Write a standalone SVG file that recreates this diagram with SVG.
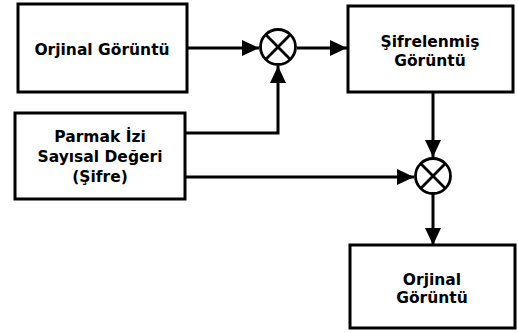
<svg xmlns="http://www.w3.org/2000/svg" width="518" height="333" viewBox="0 0 518 333">
<style>
.box{fill:#fff;stroke:#000;stroke-width:3}
.t{font-family:"DejaVu Sans",sans-serif;font-weight:bold;font-size:15.5px;text-anchor:middle;fill:#000}
.ln{fill:none;stroke:#000;stroke-width:3}
.op{fill:#fff;stroke:#000;stroke-width:2.8}
.x{stroke:#000;stroke-width:2.8}
</style>
<defs>
<marker id="ah" markerWidth="17" markerHeight="16" refX="17" refY="8" orient="auto" markerUnits="userSpaceOnUse">
<path d="M0,0 L17,8 L0,16 Z" fill="#000"/>
</marker>
</defs>
<g id="connectors">
<path class="ln" d="M187,48 L259,48" marker-end="url(#ah)"/>
<path class="ln" d="M297,48 L347,48" marker-end="url(#ah)"/>
<path class="ln" d="M185,133 L278,133 L278,66" marker-end="url(#ah)"/>
<path class="ln" d="M433,92 L433,157" marker-end="url(#ah)"/>
<path class="ln" d="M185,177 L414,177" marker-end="url(#ah)"/>
<path class="ln" d="M433,194 L433,245" marker-end="url(#ah)"/>
</g>
<g id="box1">
<rect class="box" x="18" y="4" width="169" height="88"/>
<text class="t" x="102" y="55">Orjinal Görüntü</text>
</g>
<g id="mult1">
<circle class="op" cx="278" cy="47" r="17.5"/>
<path class="x" d="M265.6,34.6 L290.4,59.4 M290.4,34.6 L265.6,59.4"/>
</g>
<g id="box2">
<rect class="box" x="348" y="6" width="165" height="86"/>
<text class="t" x="430" y="47">Şifrelenmiş</text>
<text class="t" x="430" y="66">Görüntü</text>
</g>
<g id="box3">
<rect class="box" x="15" y="113" width="170" height="86"/>
<text class="t" x="100" y="142">Parmak İzi</text>
<text class="t" x="100" y="162">Sayısal Değeri</text>
<text class="t" x="100" y="182">(Şifre)</text>
</g>
<g id="mult2">
<circle class="op" cx="433" cy="176" r="17.5"/>
<path class="x" d="M420.6,163.6 L445.4,188.4 M445.4,163.6 L420.6,188.4"/>
</g>
<g id="box4">
<rect class="box" x="350" y="245" width="165" height="83"/>
<text class="t" x="432" y="285">Orjinal</text>
<text class="t" x="432" y="303">Görüntü</text>
</g>
</svg>
